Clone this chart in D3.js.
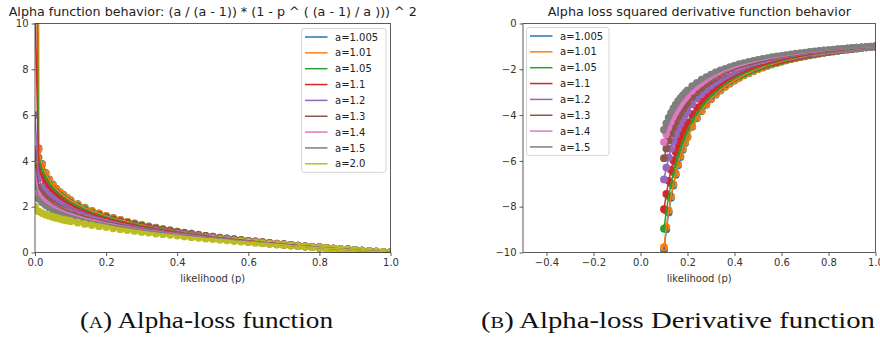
<!DOCTYPE html>
<html>
<head>
  <meta charset="utf-8">
  <title>Alpha loss</title>
  <script src="https://cdn.jsdelivr.net/npm/d3@7"></script>
  <style>
    body { margin: 0; background: #fff; }
    text { font-family: 'DejaVu Sans', sans-serif; }
  </style>
</head>
<body>
<script>
// alpha values, colours (matplotlib tab10)
var alphaLabels = ['a=1.005', 'a=1.01', 'a=1.05', 'a=1.1', 'a=1.2', 'a=1.3', 'a=1.4', 'a=1.5', 'a=2.0'];
var colors = ['#1f77b4', '#ff7f0e', '#2ca02c', '#d62728', '#9467bd', '#8c564b', '#e377c2', '#7f7f7f', '#bcbd22'];

// left panel: likelihood grid and loss values
var pLoss = [0, 0.01, 0.02, 0.03, 0.04, 0.05, 0.06, 0.07, 0.08, 0.09, 0.10,
  0.12, 0.14, 0.16, 0.18, 0.20, 0.22, 0.24, 0.26, 0.28, 0.30, 0.32, 0.34, 0.36, 0.38, 0.40,
  0.42, 0.44, 0.46, 0.48, 0.50, 0.52, 0.54, 0.56, 0.58, 0.60, 0.62, 0.64, 0.66, 0.68, 0.70,
  0.72, 0.74, 0.76, 0.78, 0.80, 0.82, 0.84, 0.86, 0.88, 0.90, 0.92, 0.94, 0.96, 0.98, 1.00];

var loss1005 = [201, 4.55, 3.87, 3.48, 3.19, 2.97, 2.79, 2.64, 2.51, 2.39, 2.29,
  2.11, 1.96, 1.82, 1.71, 1.60, 1.51, 1.42, 1.34, 1.27, 1.20, 1.14, 1.08, 1.02, 0.97, 0.91,
  0.87, 0.82, 0.78, 0.73, 0.69, 0.65, 0.62, 0.58, 0.54, 0.51, 0.48, 0.45, 0.42, 0.39, 0.36,
  0.33, 0.30, 0.27, 0.25, 0.22, 0.20, 0.17, 0.15, 0.13, 0.11, 0.08, 0.06, 0.04, 0.02, 0];
var loss101 = [101, 4.50, 3.84, 3.45, 3.17, 2.95, 2.77, 2.62, 2.49, 2.38, 2.28,
  2.10, 1.95, 1.82, 1.70, 1.60, 1.50, 1.42, 1.34, 1.26, 1.20, 1.13, 1.07, 1.02, 0.96, 0.91,
  0.86, 0.82, 0.77, 0.73, 0.69, 0.65, 0.61, 0.58, 0.54, 0.51, 0.48, 0.45, 0.41, 0.39, 0.36,
  0.33, 0.30, 0.27, 0.25, 0.22, 0.20, 0.17, 0.15, 0.13, 0.11, 0.08, 0.06, 0.04, 0.02, 0];
var loss105 = [21, 4.14, 3.57, 3.23, 2.98, 2.79, 2.63, 2.50, 2.38, 2.28, 2.18,
  2.02, 1.88, 1.75, 1.65, 1.55, 1.46, 1.38, 1.30, 1.24, 1.17, 1.11, 1.05, 1.00, 0.95, 0.90,
  0.85, 0.81, 0.76, 0.72, 0.68, 0.64, 0.61, 0.57, 0.54, 0.50, 0.47, 0.44, 0.41, 0.38, 0.35,
  0.33, 0.30, 0.27, 0.25, 0.22, 0.20, 0.17, 0.15, 0.13, 0.11, 0.08, 0.06, 0.04, 0.02, 0];
var loss11 = [11, 3.76, 3.29, 3.00, 2.79, 2.62, 2.48, 2.36, 2.26, 2.16, 2.08,
  1.93, 1.80, 1.69, 1.59, 1.50, 1.41, 1.34, 1.27, 1.20, 1.14, 1.08, 1.03, 0.98, 0.93, 0.88,
  0.83, 0.79, 0.75, 0.71, 0.67, 0.63, 0.60, 0.56, 0.53, 0.50, 0.47, 0.44, 0.41, 0.38, 0.35,
  0.32, 0.30, 0.27, 0.25, 0.22, 0.20, 0.17, 0.15, 0.13, 0.10, 0.08, 0.06, 0.04, 0.02, 0];
var loss12 = [6, 3.22, 2.87, 2.66, 2.49, 2.36, 2.25, 2.15, 2.06, 1.98, 1.91,
  1.79, 1.68, 1.58, 1.49, 1.41, 1.34, 1.27, 1.21, 1.15, 1.09, 1.04, 0.99, 0.94, 0.89, 0.85,
  0.81, 0.77, 0.73, 0.69, 0.65, 0.62, 0.59, 0.55, 0.52, 0.49, 0.46, 0.43, 0.40, 0.37, 0.35,
  0.32, 0.29, 0.27, 0.24, 0.22, 0.20, 0.17, 0.15, 0.13, 0.10, 0.08, 0.06, 0.04, 0.02, 0];
var loss13 = [4.33, 2.84, 2.58, 2.40, 2.27, 2.16, 2.07, 1.99, 1.91, 1.85, 1.79,
  1.68, 1.58, 1.49, 1.42, 1.34, 1.28, 1.22, 1.16, 1.10, 1.05, 1.00, 0.95, 0.91, 0.87, 0.83,
  0.79, 0.75, 0.71, 0.68, 0.64, 0.61, 0.57, 0.54, 0.51, 0.48, 0.45, 0.42, 0.40, 0.37, 0.34,
  0.32, 0.29, 0.27, 0.24, 0.22, 0.19, 0.17, 0.15, 0.13, 0.10, 0.08, 0.06, 0.04, 0.02, 0];
var loss14 = [3.5, 2.56, 2.36, 2.21, 2.10, 2.01, 1.93, 1.86, 1.80, 1.74, 1.69,
  1.59, 1.50, 1.43, 1.36, 1.29, 1.23, 1.17, 1.12, 1.07, 1.02, 0.97, 0.93, 0.89, 0.85, 0.81,
  0.77, 0.73, 0.70, 0.66, 0.63, 0.60, 0.57, 0.53, 0.50, 0.48, 0.45, 0.42, 0.39, 0.37, 0.34,
  0.31, 0.29, 0.26, 0.24, 0.22, 0.19, 0.17, 0.15, 0.13, 0.10, 0.08, 0.06, 0.04, 0.02, 0];
var loss15 = [3, 2.35, 2.19, 2.07, 1.97, 1.89, 1.83, 1.76, 1.71, 1.66, 1.61,
  1.52, 1.44, 1.37, 1.31, 1.25, 1.19, 1.14, 1.09, 1.04, 0.99, 0.95, 0.91, 0.87, 0.83, 0.79,
  0.75, 0.72, 0.68, 0.65, 0.62, 0.59, 0.56, 0.53, 0.50, 0.47, 0.44, 0.41, 0.39, 0.36, 0.34,
  0.31, 0.29, 0.26, 0.24, 0.22, 0.19, 0.17, 0.15, 0.13, 0.10, 0.08, 0.06, 0.04, 0.02, 0];
var loss20 = [2, 1.80, 1.72, 1.65, 1.60, 1.55, 1.51, 1.47, 1.43, 1.40, 1.37,
  1.31, 1.25, 1.20, 1.15, 1.11, 1.06, 1.02, 0.98, 0.94, 0.90, 0.87, 0.83, 0.80, 0.77, 0.74,
  0.70, 0.67, 0.64, 0.61, 0.59, 0.56, 0.53, 0.50, 0.48, 0.45, 0.43, 0.40, 0.38, 0.35, 0.33,
  0.30, 0.28, 0.26, 0.23, 0.21, 0.19, 0.17, 0.15, 0.12, 0.10, 0.08, 0.06, 0.04, 0.02, 0];

// right panel: likelihood grid and derivative values
var pDeriv = [0.10, 0.11, 0.12, 0.13, 0.14, 0.15, 0.16, 0.17, 0.18, 0.19, 0.20,
  0.22, 0.24, 0.26, 0.28, 0.30, 0.32, 0.34, 0.36, 0.38, 0.40,
  0.42, 0.44, 0.46, 0.48, 0.50, 0.52, 0.54, 0.56, 0.58, 0.60,
  0.62, 0.64, 0.66, 0.68, 0.70, 0.72, 0.74, 0.76, 0.78, 0.80,
  0.82, 0.84, 0.86, 0.88, 0.90, 0.92, 0.94, 0.96, 0.98, 1.00];

var deriv1005 = [-9.89, -8.99, -8.25, -7.61, -7.07, -6.60, -6.19, -5.83, -5.51, -5.22, -4.96,
  -4.51, -4.14, -3.82, -3.55, -3.31, -3.11, -2.93, -2.76, -2.62, -2.49,
  -2.37, -2.26, -2.17, -2.08, -1.99, -1.92, -1.85, -1.78, -1.72, -1.66,
  -1.61, -1.56, -1.51, -1.47, -1.43, -1.39, -1.35, -1.31, -1.28, -1.25,
  -1.22, -1.19, -1.16, -1.14, -1.11, -1.09, -1.06, -1.04, -1.02, -1];
var deriv101 = [-9.77, -8.89, -8.16, -7.54, -7.01, -6.54, -6.14, -5.78, -5.46, -5.18, -4.92,
  -4.48, -4.11, -3.80, -3.53, -3.29, -3.09, -2.91, -2.75, -2.61, -2.48,
  -2.36, -2.25, -2.16, -2.07, -1.99, -1.91, -1.84, -1.78, -1.71, -1.66,
  -1.61, -1.56, -1.51, -1.47, -1.42, -1.38, -1.35, -1.31, -1.28, -1.25,
  -1.22, -1.19, -1.16, -1.13, -1.11, -1.09, -1.06, -1.04, -1.02, -1];
var deriv105 = [-8.96, -8.18, -7.53, -6.98, -6.50, -6.09, -5.73, -5.41, -5.12, -4.86, -4.63,
  -4.23, -3.89, -3.61, -3.36, -3.15, -2.96, -2.79, -2.65, -2.51, -2.39,
  -2.28, -2.19, -2.09, -2.01, -1.94, -1.86, -1.80, -1.74, -1.68, -1.63,
  -1.58, -1.53, -1.49, -1.44, -1.40, -1.37, -1.33, -1.30, -1.27, -1.24,
  -1.21, -1.18, -1.15, -1.13, -1.11, -1.08, -1.06, -1.04, -1.02, -1];
var deriv11 = [-8.11, -7.44, -6.87, -6.39, -5.97, -5.61, -5.29, -5.01, -4.75, -4.53, -4.32,
  -3.96, -3.66, -3.40, -3.18, -2.99, -2.82, -2.67, -2.53, -2.41, -2.30,
  -2.20, -2.11, -2.03, -1.95, -1.88, -1.81, -1.75, -1.69, -1.64, -1.59,
  -1.54, -1.50, -1.46, -1.42, -1.38, -1.35, -1.31, -1.28, -1.25, -1.22,
  -1.20, -1.17, -1.15, -1.12, -1.10, -1.08, -1.06, -1.04, -1.02, -1];
var deriv12 = [-6.81, -6.29, -5.85, -5.47, -5.15, -4.86, -4.61, -4.38, -4.17, -3.99, -3.82,
  -3.53, -3.28, -3.07, -2.89, -2.73, -2.58, -2.46, -2.34, -2.24, -2.15,
  -2.06, -1.98, -1.91, -1.84, -1.78, -1.72, -1.67, -1.62, -1.57, -1.53,
  -1.49, -1.45, -1.41, -1.38, -1.35, -1.31, -1.29, -1.26, -1.23, -1.20,
  -1.18, -1.16, -1.13, -1.11, -1.09, -1.07, -1.05, -1.03, -1.02, -1];
var deriv13 = [-5.88, -5.46, -5.11, -4.80, -4.54, -4.30, -4.09, -3.91, -3.74, -3.59, -3.45,
  -3.21, -3.00, -2.82, -2.66, -2.52, -2.40, -2.29, -2.19, -2.10, -2.02,
  -1.95, -1.88, -1.82, -1.76, -1.70, -1.65, -1.61, -1.56, -1.52, -1.48,
  -1.44, -1.41, -1.38, -1.35, -1.32, -1.29, -1.26, -1.24, -1.21, -1.19,
  -1.16, -1.14, -1.12, -1.10, -1.08, -1.07, -1.05, -1.03, -1.02, -1];
var deriv14 = [-5.18, -4.84, -4.55, -4.29, -4.07, -3.88, -3.70, -3.55, -3.40, -3.27, -3.16,
  -2.95, -2.77, -2.62, -2.48, -2.36, -2.26, -2.16, -2.07, -2.00, -1.92,
  -1.86, -1.80, -1.74, -1.69, -1.64, -1.60, -1.55, -1.51, -1.48, -1.44,
  -1.41, -1.38, -1.35, -1.32, -1.29, -1.26, -1.24, -1.22, -1.19, -1.17,
  -1.15, -1.13, -1.11, -1.10, -1.08, -1.06, -1.05, -1.03, -1.01, -1];
var deriv15 = [-4.64, -4.36, -4.11, -3.90, -3.71, -3.54, -3.39, -3.26, -3.14, -3.03, -2.92,
  -2.74, -2.59, -2.45, -2.34, -2.23, -2.14, -2.05, -1.98, -1.91, -1.84,
  -1.78, -1.73, -1.68, -1.63, -1.59, -1.55, -1.51, -1.47, -1.44, -1.41,
  -1.38, -1.35, -1.32, -1.29, -1.27, -1.24, -1.22, -1.20, -1.18, -1.16,
  -1.14, -1.12, -1.11, -1.09, -1.07, -1.06, -1.04, -1.03, -1.01, -1];

var lossSeries = [loss1005, loss101, loss105, loss11, loss12, loss13, loss14, loss15, loss20];
var derivSeries = [deriv1005, deriv101, deriv105, deriv11, deriv12, deriv13, deriv14, deriv15];

var xTicksLeft = [0, 0.2, 0.4, 0.6, 0.8, 1.0];
var yTicksLeft = [0, 2, 4, 6, 8, 10];
var xTicksRight = [-0.4, -0.2, 0, 0.2, 0.4, 0.6, 0.8, 1.0];
var yTicksRight = [-10, -8, -6, -4, -2, 0];

var width = 880, height = 340;

var svg = d3.select('body')
  .append('svg')
  .attr('width', width)
  .attr('height', height);

// draws one matplotlib-like panel
function panel(opt) {
  var x = d3.scaleLinear().domain(opt.xDomain).range([opt.left, opt.right]);
  var y = d3.scaleLinear().domain(opt.yDomain).range([opt.bottom, opt.top]);
  var g = svg.append('g');

  g.append('clipPath').attr('id', opt.id)
    .append('rect')
    .attr('x', opt.left).attr('y', opt.top)
    .attr('width', opt.right - opt.left).attr('height', opt.bottom - opt.top);

  var plot = g.append('g').attr('clip-path', 'url(#' + opt.id + ')');

  // scatter markers sit under the lines
  opt.series.forEach(function(vals, i) {
    plot.append('g').selectAll('circle')
      .data(vals)
      .enter()
      .append('circle')
      .attr('cx', function(d, j) { return x(opt.p[j]); })
      .attr('cy', function(d) { return y(d); })
      .attr('r', 3.9)
      .attr('fill', colors[i]);
  });

  var line = d3.line()
    .x(function(d, j) { return x(opt.p[j]); })
    .y(function(d) { return y(d); });

  opt.series.forEach(function(vals, i) {
    plot.append('path')
      .datum(vals)
      .attr('fill', 'none')
      .attr('stroke', colors[i])
      .attr('stroke-width', 1.5)
      .attr('d', line);
  });

  var xAxis = g.append('g')
    .attr('transform', 'translate(0,' + opt.bottom + ')')
    .call(d3.axisBottom(x).tickValues(opt.xTicks).tickFormat(d3.format('.1f'))
      .tickSize(3.5).tickPadding(3));
  var yAxis = g.append('g')
    .attr('transform', 'translate(' + opt.left + ',0)')
    .call(d3.axisLeft(y).tickValues(opt.yTicks).tickFormat(d3.format('d'))
      .tickSize(3.5).tickPadding(3));

  [xAxis, yAxis].forEach(function(a) {
    a.select('.domain').remove();
    a.selectAll('line').attr('stroke', '#333').attr('stroke-width', 0.8);
    a.selectAll('text').attr('fill', '#333').style('font-size', '10px')
      .style('font-family', "'DejaVu Sans', sans-serif");
  });

  g.append('rect')
    .attr('x', opt.left).attr('y', opt.top)
    .attr('width', opt.right - opt.left).attr('height', opt.bottom - opt.top)
    .attr('fill', 'none').attr('stroke', '#333').attr('stroke-width', 0.8);

  g.append('text')
    .attr('x', (opt.left + opt.right) / 2).attr('y', 16)
    .attr('text-anchor', 'middle')
    .style('font-size', '12.7px').attr('fill', '#222')
    .text(opt.title);

  g.append('text')
    .attr('x', (opt.left + opt.right) / 2).attr('y', 282)
    .attr('text-anchor', 'middle')
    .style('font-size', '10px').attr('fill', '#333')
    .text('likelihood (p)');

  // legend
  var n = opt.series.length;
  var lg = g.append('g');
  lg.append('rect')
    .attr('x', opt.legX).attr('y', opt.legY)
    .attr('width', opt.legW).attr('height', 17 + (n - 1) * 15.85)
    .attr('rx', 2.5)
    .attr('fill', '#fff').attr('fill-opacity', 0.8)
    .attr('stroke', '#ccc').attr('stroke-width', 0.8);
  for (var i = 0; i < n; i++) {
    var ly = opt.legY + 8.5 + i * 15.85;
    lg.append('line')
      .attr('x1', opt.legX + 3.5).attr('x2', opt.legX + 26)
      .attr('y1', ly).attr('y2', ly)
      .attr('stroke', colors[i]).attr('stroke-width', 1.5);
    lg.append('text')
      .attr('x', opt.legX + 33.5).attr('y', ly + 3.6)
      .style('font-size', '10px').attr('fill', '#222')
      .text(alphaLabels[i]);
  }
}

panel({
  id: 'clipLeft', left: 35, right: 390.5, top: 23.5, bottom: 252.5,
  xDomain: [0, 1], yDomain: [0, 10], p: pLoss, series: lossSeries,
  xTicks: xTicksLeft, yTicks: yTicksLeft,
  title: 'Alpha function behavior: (a / (a - 1)) * (1 - p ^ ( (a - 1) / a ))) ^ 2',
  legX: 301.5, legY: 28.5, legW: 84.5
});

panel({
  id: 'clipRight', left: 523, right: 875.5, top: 23.5, bottom: 252.5,
  xDomain: [-0.5, 1], yDomain: [-10, 0], p: pDeriv, series: derivSeries,
  xTicks: xTicksRight, yTicks: yTicksRight,
  title: 'Alpha loss squared derivative function behavior',
  legX: 526.5, legY: 27.5, legW: 82.5
});

// sub-figure captions (Computer Modern look-alike, stretched to the original widths)
function caption(cx, w, letter, rest) {
  var t = svg.append('text')
    .attr('x', cx).attr('y', 328)
    .attr('text-anchor', 'middle')
    .attr('textLength', w)
    .attr('lengthAdjust', 'spacingAndGlyphs')
    .style('font-family', "'Liberation Serif', 'DejaVu Serif', serif")
    .style('font-size', '24px')
    .attr('fill', '#111');
  t.append('tspan').text('(');
  t.append('tspan').style('font-size', '17px').text(letter);
  t.append('tspan').text(') ' + rest);
}
caption(206.5, 253, 'A', 'Alpha-loss function');
caption(678, 394, 'B', 'Alpha-loss Derivative function');
</script>
</body>
</html>
